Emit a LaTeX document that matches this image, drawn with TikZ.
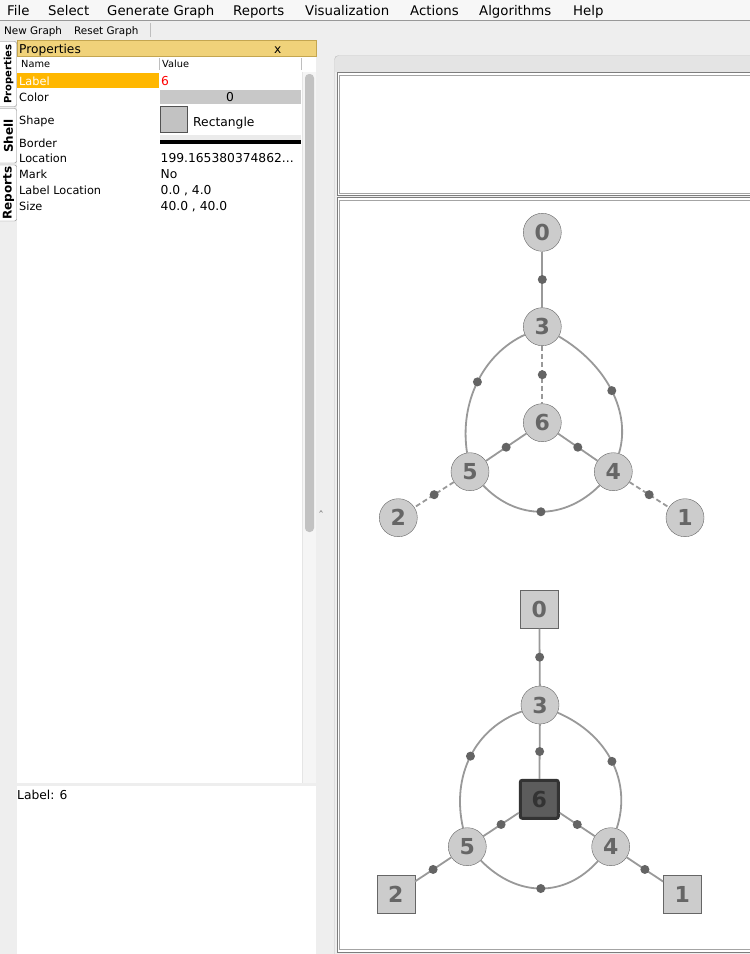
\documentclass[tikz,border=0pt]{standalone}
\definecolor{winbg}{RGB}{238, 238, 238}
\definecolor{tabgray}{RGB}{228, 228, 228}
\definecolor{titleyel}{RGB}{240, 210, 122}
\definecolor{titleedge}{RGB}{196, 166, 80}
\definecolor{selorange}{RGB}{255, 183, 0}
\definecolor{cellgray}{RGB}{200, 200, 200}
\definecolor{nodegray}{RGB}{204, 204, 204}
\definecolor{nodeedge}{RGB}{102, 102, 102}
\definecolor{edgegray}{RGB}{153, 153, 153}
\definecolor{dotgray}{RGB}{100, 100, 100}
\definecolor{selfill}{RGB}{92, 92, 92}
\definecolor{seledge}{RGB}{51, 51, 51}
\definecolor{framegray}{RGB}{125, 125, 125}
\definecolor{linegray}{RGB}{190, 190, 190}
\usepackage{fontspec}
\setmainfont{DejaVu Sans}
\usetikzlibrary{calc}

\begin{document}
\begin{tikzpicture}[x=1pt, y=-1pt,
  ui/.style={anchor=base west, inner sep=0pt, font=\fontsize{11.3}{13}\selectfont},
  val/.style={ui, font=\fontsize{12.3}{14}\selectfont},
  menu/.style={ui, font=\fontsize{13.3}{15}\selectfont},
  tool/.style={ui, font=\fontsize{10.4}{12}\selectfont},
  tabtxt/.style={rotate=90, inner sep=0pt, font=\bfseries\fontsize{10}{12}\selectfont},
  vnode/.style={circle, draw=nodeedge, fill=nodegray, minimum size=38pt, inner sep=0pt,
    text=nodeedge, font=\bfseries\fontsize{22}{24}\selectfont},
  snode/.style={vnode, rectangle},
  selnode/.style={snode, fill=selfill, draw=seledge, line width=3pt, rounded corners=2pt, text=seledge},
  link/.style={draw=edgegray, line width=1.8pt},
  dlink/.style={link, dash pattern=on 5pt off 3pt},
  middot/.style={circle, fill=dotgray, minimum size=9pt, inner sep=0pt},
]
\useasboundingbox (0,0) rectangle (750,954);
\fill[winbg] (0,0) rectangle (750,954);

% Menu bar
\fill[white!97!black] (0,0) rectangle (750,20.5);
\draw[linegray!80!black] (0,20.5) -- (750,20.5);
\node[menu] at (7,15) {File};
\node[menu] at (48,15) {Select};
\node[menu] at (107,15) {Generate Graph};
\node[menu] at (233,15) {Reports};
\node[menu] at (305,15) {Visualization};
\node[menu] at (410,15) {Actions};
\node[menu] at (479,15) {Algorithms};
\node[menu] at (573,15) {Help};

% Tool bar
\node[tool] at (4,34) {New Graph};
\node[tool] at (74,34) {Reset Graph};
\draw[linegray] (150.5,23) -- (150.5,37);

% Side tabs
\draw[linegray!70!black, fill=white, rounded corners=2pt] (-2,41.5) rectangle (16.5,106.5);
\node[tabtxt] at (8.5,74) {Properties};
\draw[linegray!70!black, fill=white, rounded corners=2pt] (-2,108.5) rectangle (16.5,163);
\node[tabtxt, font=\bfseries\fontsize{12}{14}\selectfont] at (8.5,136) {Shell};
\draw[linegray!70!black, fill=white, rounded corners=2pt] (-2,165) rectangle (16.5,221);
\node[tabtxt, font=\bfseries\fontsize{12}{14}\selectfont] at (8.5,193) {Reports};

% Properties panel
\fill[white] (17,56) rectangle (316,783);
\draw[titleedge, fill=titleyel] (17.5,40) rectangle (316,56);
\node[ui, font=\fontsize{12.2}{14}\selectfont] at (19,53) {Properties};
\node[ui, font=\fontsize{12.2}{14}\selectfont] at (274,53) {x};
\node[ui, font=\fontsize{9.8}{12}\selectfont] at (21,67.5) {Name};
\node[ui, font=\fontsize{9.8}{12}\selectfont] at (162,67.5) {Value};
\draw[linegray] (159.5,58) -- (159.5,70) (301.5,58) -- (301.5,70);

% Scroll track
\fill[white!96!black] (302,72) rectangle (316,783);
\draw[white!90!black] (302,72) -- (302,783);
\fill[white!76!black, rounded corners=4pt] (305,74) rectangle (314,532);

% Property rows
\fill[selorange] (17,73) rectangle (159,88);
\node[ui, text=white] at (19,85) {Label};
\node[val, text=red] at (161,85) {6};
\node[ui] at (19,101) {Color};
\fill[cellgray] (160,89.5) rectangle (301,104);
\node[val, anchor=base] at (230,101) {0};
\node[ui] at (19,124) {Shape};
\draw[nodeedge!80!black, fill=white!76!black] (160.5,106) rectangle (187.5,132.5);
\node[val] at (193,126) {Rectangle};
\node[ui] at (19,147) {Border};
\fill[white!92!black] (160,135) rectangle (301,140);
\fill[black] (160,140) rectangle (301,144);
\node[ui] at (19,162) {Location};
\node[val] at (160.5,162) {199.165380374862...};
\node[ui] at (19,178) {Mark};
\node[val] at (160.5,178) {No};
\node[ui] at (19,194) {Label Location};
\node[val] at (160.5,194) {0.0 , 4.0};
\node[ui] at (19,210) {Size};
\node[val] at (160.5,210) {40.0 , 40.0};

% Label panel
\fill[white] (17,786) rectangle (316,954);
\node[val] at (17,799) {Label: 6};
\draw[gray, line width=0.6pt] (319.5,512.5) -- (321,510.5) -- (322.5,512.5);

% Graph tab pane
\fill[tabgray] (334.5,55.5) rectangle (750,72);
\draw[linegray, rounded corners=4pt] (334.5,954) |- (752,55.5);
\draw[framegray, fill=white] (337,72.5) rectangle (752,195.5);
\draw[framegray!70] (339.5,75) rectangle (752,193);
\draw[framegray, fill=white] (337,197.5) rectangle (752,952);
\draw[framegray!70] (339.5,200) rectangle (752,949.5);

% Graph one
\node[vnode] (a0) at (542.3,232.3) {0};
\node[vnode] (a3) at (542.3,326.7) {3};
\node[vnode] (a6) at (542.3,422.7) {6};
\node[vnode] (a5) at (470,471.7) {5};
\node[vnode] (a4) at (613.3,471.7) {4};
\node[vnode] (a2) at (398.3,517.7) {2};
\node[vnode] (a1) at (685,517.7) {1};
\coordinate (p35) at (453.8,367.4);
\coordinate (p34) at (640.2,384.2);
\coordinate (p54) at (540.3,544.9);

\draw[link] (a0) -- (a3) node[middot, midway] {};
\draw[dlink] (a3) -- (a6) node[middot, midway] {};
\draw[link] (a6) -- (a5) node[middot, midway] {};
\draw[link] (a6) -- (a4) node[middot, midway] {};
\draw[dlink] (a5) -- (a2) node[middot, midway] {};
\draw[dlink] (a4) -- (a1) node[middot, midway] {};
\draw[link] (a3) .. controls ($(a3)!0.667!(p35)$) and ($(a5)!0.667!(p35)$) .. (a5) node[middot, pos=0.5] {};
\draw[link] (a3) .. controls ($(a3)!0.667!(p34)$) and ($(a4)!0.667!(p34)$) .. (a4) node[middot, pos=0.5] {};
\draw[link] (a5) .. controls ($(a5)!0.667!(p54)$) and ($(a4)!0.667!(p54)$) .. (a4) node[middot, pos=0.5] {};

% Graph two
\node[snode] (b0) at (539.3,609.3) {0};
\node[vnode] (b3) at (540,705) {3};
\node[selnode] (b6) at (539.3,799.3) {6};
\node[vnode] (b5) at (467.3,846.7) {5};
\node[vnode] (b4) at (610.7,846.7) {4};
\node[snode] (b2) at (395.7,894.3) {2};
\node[snode] (b1) at (682.3,894.3) {1};
\coordinate (q35) at (442.9,739.5);
\coordinate (q34) at (642.6,749.5);
\coordinate (q54) at (542.4,923.3);

\draw[link] (b0) -- (b3) node[middot, midway] {};
\draw[link] (b3) -- (b6) node[middot, midway] {};
\draw[link] (b6) -- (b5) node[middot, midway] {};
\draw[link] (b6) -- (b4) node[middot, midway] {};
\draw[link] (b5) -- (b2) node[middot, midway] {};
\draw[link] (b4) -- (b1) node[middot, midway] {};
\draw[link] (b3) .. controls ($(b3)!0.667!(q35)$) and ($(b5)!0.667!(q35)$) .. (b5) node[middot, pos=0.5] {};
\draw[link] (b3) .. controls ($(b3)!0.667!(q34)$) and ($(b4)!0.667!(q34)$) .. (b4) node[middot, pos=0.5] {};
\draw[link] (b5) .. controls ($(b5)!0.667!(q54)$) and ($(b4)!0.667!(q54)$) .. (b4) node[middot, pos=0.5] {};
\end{tikzpicture}
\end{document}
